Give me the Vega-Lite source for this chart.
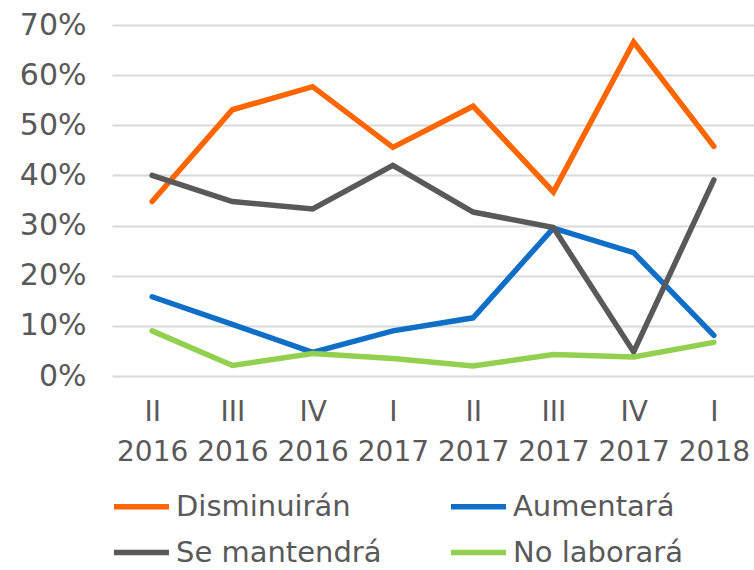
{
  "$schema": "https://vega.github.io/schema/vega-lite/v6.json",
  "autosize": "none",
  "width": 642,
  "height": 351,
  "padding": {"left": 112, "top": 25, "right": 0, "bottom": 194},
  "background": "white",
  "config": {
    "view": {"stroke": null},
    "font": "DejaVu Sans",
    "axis": {"labelFont": "DejaVu Sans", "labelColor": "#595959", "labelFontSize": 29},
    "legend": {"labelFont": "DejaVu Sans", "labelColor": "#595959", "labelFontSize": 29}
  },
  "data": {
    "values": [
      {"periodo": "II 2016", "serie": "Disminuirán", "valor": 0.348},
      {"periodo": "III 2016", "serie": "Disminuirán", "valor": 0.531},
      {"periodo": "IV 2016", "serie": "Disminuirán", "valor": 0.577},
      {"periodo": "I 2017", "serie": "Disminuirán", "valor": 0.456},
      {"periodo": "II 2017", "serie": "Disminuirán", "valor": 0.538},
      {"periodo": "III 2017", "serie": "Disminuirán", "valor": 0.367},
      {"periodo": "IV 2017", "serie": "Disminuirán", "valor": 0.666},
      {"periodo": "I 2018", "serie": "Disminuirán", "valor": 0.458},
      {"periodo": "II 2016", "serie": "Aumentará", "valor": 0.158},
      {"periodo": "III 2016", "serie": "Aumentará", "valor": 0.103},
      {"periodo": "IV 2016", "serie": "Aumentará", "valor": 0.047},
      {"periodo": "I 2017", "serie": "Aumentará", "valor": 0.09},
      {"periodo": "II 2017", "serie": "Aumentará", "valor": 0.116},
      {"periodo": "III 2017", "serie": "Aumentará", "valor": 0.295},
      {"periodo": "IV 2017", "serie": "Aumentará", "valor": 0.246},
      {"periodo": "I 2018", "serie": "Aumentará", "valor": 0.081},
      {"periodo": "II 2016", "serie": "Se mantendrá", "valor": 0.40},
      {"periodo": "III 2016", "serie": "Se mantendrá", "valor": 0.348},
      {"periodo": "IV 2016", "serie": "Se mantendrá", "valor": 0.333},
      {"periodo": "I 2017", "serie": "Se mantendrá", "valor": 0.42},
      {"periodo": "II 2017", "serie": "Se mantendrá", "valor": 0.327},
      {"periodo": "III 2017", "serie": "Se mantendrá", "valor": 0.296},
      {"periodo": "IV 2017", "serie": "Se mantendrá", "valor": 0.048},
      {"periodo": "I 2018", "serie": "Se mantendrá", "valor": 0.391},
      {"periodo": "II 2016", "serie": "No laborará", "valor": 0.09},
      {"periodo": "III 2016", "serie": "No laborará", "valor": 0.021},
      {"periodo": "IV 2016", "serie": "No laborará", "valor": 0.045},
      {"periodo": "I 2017", "serie": "No laborará", "valor": 0.035},
      {"periodo": "II 2017", "serie": "No laborará", "valor": 0.02},
      {"periodo": "III 2017", "serie": "No laborará", "valor": 0.043},
      {"periodo": "IV 2017", "serie": "No laborará", "valor": 0.038},
      {"periodo": "I 2018", "serie": "No laborará", "valor": 0.067}
    ]
  },
  "mark": {"type": "line", "strokeWidth": 5.5, "strokeCap": "round", "strokeJoin": "miter"},
  "encoding": {
    "x": {
      "field": "periodo",
      "type": "ordinal",
      "sort": null,
      "scale": {"type": "point", "padding": 0.5},
      "axis": {
        "title": null,
        "labelAngle": 0,
        "domain": false,
        "ticks": false,
        "grid": false,
        "labelExpr": "split(datum.label, ' ')",
        "labelLineHeight": 40,
        "labelPadding": 22,
        "labelFontSize": 28
      }
    },
    "y": {
      "field": "valor",
      "type": "quantitative",
      "scale": {"domain": [0, 0.7], "nice": false},
      "axis": {
        "title": null,
        "format": ".0%",
        "values": [0, 0.1, 0.2, 0.3, 0.4, 0.5, 0.6, 0.7],
        "labelOverlap": false,
        "labelFontSize": 30,
        "domain": false,
        "ticks": false,
        "gridColor": "#D9D9D9",
        "gridWidth": 2,
        "labelPadding": 26
      }
    },
    "color": {
      "field": "serie",
      "type": "nominal",
      "scale": {
        "domain": ["Disminuirán", "Aumentará", "Se mantendrá", "No laborará"],
        "range": ["#FF6600", "#0F6FC6", "#595959", "#92D050"]
      },
      "legend": {
        "title": null,
        "orient": "none",
        "legendX": -1,
        "legendY": 451,
        "direction": "horizontal",
        "columns": 2,
        "symbolType": "stroke",
        "symbolSize": 3025,
        "symbolStrokeWidth": 5.5,
        "labelOffset": 4,
        "columnPadding": 58,
        "rowPadding": -3,
        "labelLimit": 400
      }
    }
  }
}
